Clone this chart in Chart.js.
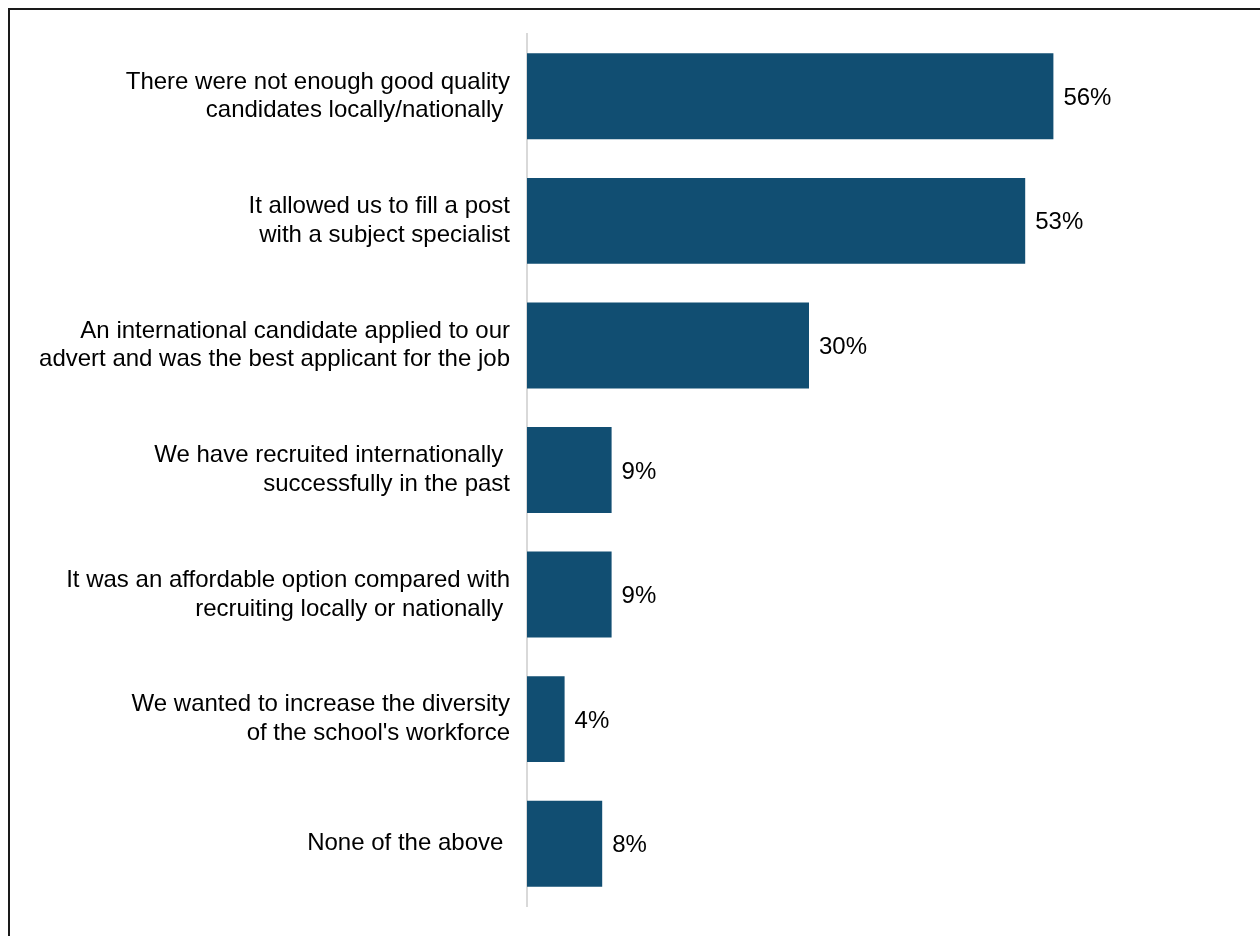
<!DOCTYPE html>
<html>
<head>
<meta charset="utf-8">
<script src="https://cdn.jsdelivr.net/npm/chart.js@4"></script>
<style>
    html, body { margin: 0; padding: 0; background: #fff; overflow: hidden; }
    #marco { position: absolute; left: 0; top: 0; width: 1260px; height: 936px; }
    #borde { position: absolute; left: 8px; top: 8px; width: 1300px; height: 1000px; border: 2px solid #1a1a1a; box-sizing: border-box; }
    #razones { position: absolute; left: 0; top: 0; }
</style>
</head>
<body>
<div id="marco">
    <div id="borde"></div>
    <canvas id="razones" width="1260" height="936"></canvas>
</div>
<script>
// Motivos (cada uno en varias lineas) y porcentajes
var motivos = [
    ["There were not enough good quality", "candidates locally/nationally "],
    ["It allowed us to fill a post", "with a subject specialist"],
    ["An international candidate applied to our", "advert and was the best applicant for the job"],
    ["We have recruited internationally ", "successfully in the past"],
    ["It was an affordable option compared with", "recruiting locally or nationally "],
    ["We wanted to increase the diversity", "of the school's workforce"],
    ["None of the above "]
];
var porcentajes = [56, 53, 30, 9, 9, 4, 8];
var escalaMax = 60;

// Escribe el valor al final de cada barra
var etiquetasValor = {
    id: 'etiquetasValor',
    afterDatasetsDraw: function (chart) {
        var ctx = chart.ctx;
        var meta = chart.getDatasetMeta(0);
        ctx.save();
        ctx.font = '24px "Liberation Sans", Arial, sans-serif';
        ctx.fillStyle = '#000';
        ctx.textAlign = 'left';
        ctx.textBaseline = 'middle';
        meta.data.forEach(function (barra, i) {
            ctx.fillText(porcentajes[i] + '%', barra.x + 10, barra.y + 2);
        });
        ctx.restore();
    }
};

document.addEventListener("DOMContentLoaded", function () {
    var config = {
        type: 'bar',
        data: {
            labels: motivos,
            datasets: [{
                data: porcentajes,
                backgroundColor: '#114e72',
                borderWidth: 0,
                barPercentage: 0.69,
                categoryPercentage: 1
            }]
        },
        options: {
            indexAxis: 'y',
            responsive: false,
            animation: false,
            layout: { padding: { left: 0, top: 34, right: 169, bottom: 30 } },
            plugins: {
                legend: { display: false },
                tooltip: { enabled: false }
            },
            scales: {
                x: {
                    display: false,
                    min: 0,
                    max: escalaMax
                },
                y: {
                    grid: { display: false, drawTicks: false },
                    border: { display: true, color: '#d9d9d9', width: 2 },
                    ticks: {
                        color: '#000',
                        padding: 17,
                        font: { family: '"Liberation Sans", Arial, sans-serif', size: 24, lineHeight: 1.2 }
                    },
                    afterFit: function (escala) {
                        // ancho fijo para las etiquetas, sin margen extra arriba/abajo
                        escala.width = 527;
                        escala.paddingTop = 0;
                        escala.paddingBottom = 0;
                    }
                }
            }
        },
        plugins: [etiquetasValor]
    };

    new Chart(document.getElementById('razones'), config);
});
</script>
</body>
</html>
